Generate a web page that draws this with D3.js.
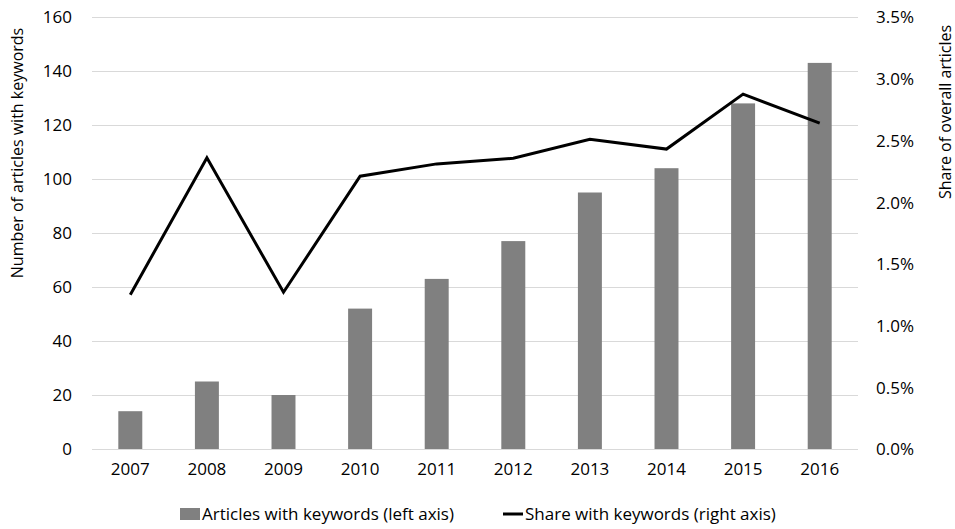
<!DOCTYPE html>
<html>
<head>
<meta charset="utf-8">
<script src="https://cdn.jsdelivr.net/npm/d3@7"></script>
<style>
  body { margin: 0; background: #fff; }
  text { font-family: "Open Sans", "Noto Sans", sans-serif; fill: #000; }
</style>
</head>
<body>
<svg id="chart" width="955" height="529"></svg>
<script>
const years = ["2007","2008","2009","2010","2011","2012","2013","2014","2015","2016"];
const articles = [14, 25, 20, 52, 63, 77, 95, 104, 128, 143];
const share = [1.25, 2.36, 1.27, 2.21, 2.31, 2.355, 2.51, 2.43, 2.875, 2.64];
const leftTicks = [0, 20, 40, 60, 80, 100, 120, 140, 160];
const rightTicks = [0, 0.5, 1.0, 1.5, 2.0, 2.5, 3.0, 3.5];

const svg = d3.select("#chart");
const pL = 92, pR = 858, pT = 17, pB = 449;
const fs = "17px";

const x = d3.scaleBand().domain(years).range([pL, pR]).paddingInner(0.687).paddingOuter(0.3435);
const yL = d3.scaleLinear().domain([0, 160]).range([pB, pT]);
const yR = d3.scaleLinear().domain([0, 3.5]).range([pB, pT]);

// gridlines
svg.append("g").selectAll("line").data(leftTicks).join("line")
  .attr("x1", pL).attr("x2", pR)
  .attr("y1", d => yL(d) + 0.5).attr("y2", d => yL(d) + 0.5)
  .attr("stroke", "#d9d9d9").attr("stroke-width", 1);

// left axis
const axL = svg.append("g").attr("transform", `translate(${pL - 20},0)`)
  .call(d3.axisLeft(yL).tickValues(leftTicks).tickSize(0).tickPadding(0));
axL.select(".domain").remove();
axL.selectAll("text").style("font-size", fs).attr("dy", "0.35em");

// right axis
const axR = svg.append("g").attr("transform", `translate(${pR + 18},0)`)
  .call(d3.axisRight(yR).tickValues(rightTicks).tickSize(0).tickPadding(0).tickFormat(d => d.toFixed(1) + "%"));
axR.select(".domain").remove();
axR.selectAll("text").style("font-size", fs).attr("dy", "0.35em");

// bottom axis
const axB = svg.append("g").attr("transform", `translate(0,${pB + 12})`)
  .call(d3.axisBottom(x).tickSize(0).tickPadding(0));
axB.select(".domain").remove();
axB.selectAll("text").style("font-size", fs).attr("dy", "0.85em");

// bars
svg.append("g").selectAll("rect").data(articles).join("rect")
  .attr("x", (d, i) => x(years[i]))
  .attr("width", x.bandwidth())
  .attr("y", d => yL(d))
  .attr("height", d => yL(0) - yL(d))
  .attr("fill", "#808080");

// line
const line = d3.line()
  .x((d, i) => x(years[i]) + x.bandwidth() / 2)
  .y(d => yR(d));
svg.append("path").datum(share)
  .attr("d", line).attr("fill", "none")
  .attr("stroke", "#000").attr("stroke-width", 3).attr("stroke-linejoin", "miter");

// axis titles
svg.append("text").attr("transform", "translate(23,153) rotate(-90)")
  .attr("text-anchor", "middle").style("font-size", "16px")
  .text("Number of articles with keywords");
svg.append("text").attr("transform", "translate(945,112) rotate(-90)")
  .attr("text-anchor", "middle").attr("dy", "0.35em").style("font-size", "16px")
  .text("Share of overall articles");

// legend
const lg = svg.append("g");
lg.append("rect").attr("x", 180).attr("y", 508).attr("width", 20).attr("height", 12).attr("fill", "#808080");
lg.append("text").attr("x", 202).attr("y", 514).attr("dy", "0.35em").style("font-size", fs)
  .text("Articles with keywords (left axis)");
lg.append("line").attr("x1", 503).attr("x2", 523).attr("y1", 514).attr("y2", 514)
  .attr("stroke", "#000").attr("stroke-width", 3);
lg.append("text").attr("x", 525).attr("y", 514).attr("dy", "0.35em").style("font-size", fs)
  .text("Share with keywords (right axis)");
</script>
</body>
</html>
